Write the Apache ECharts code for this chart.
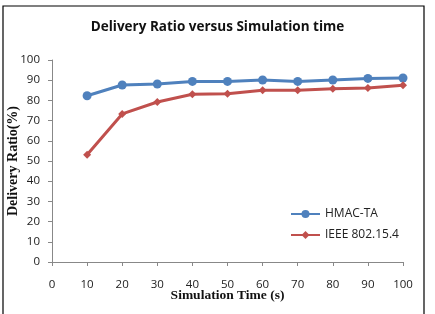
<!DOCTYPE html>
<html><head><meta charset="utf-8">
<script src="https://cdn.jsdelivr.net/npm/echarts@6/dist/echarts.min.js"></script>
<style>html,body{margin:0;padding:0;background:#fff}#c{width:435px;height:314px}</style>
</head><body><div id="c"></div>
<script>
const times = [10, 20, 30, 40, 50, 60, 70, 80, 90, 100];
const hmacTA = [82.3, 87.6, 88.1, 89.4, 89.4, 90.1, 89.4, 90.1, 90.9, 91.1];
const ieee802154 = [53.1, 73.3, 79.2, 83.0, 83.3, 85.0, 85.0, 85.8, 86.1, 87.5];
const seriesNames = ['HMAC-TA', 'IEEE 802.15.4'];
const titleText = 'Delivery Ratio versus Simulation time';
const xName = 'Simulation Time (s)';
const yName = 'Delivery Ratio(%)';

const chart = echarts.init(document.getElementById('c'));
const tickFont = {fontFamily: 'Open Sans', fontSize: 11.5, color: '#222'};
chart.setOption({
  animation: false,
  title: {text: titleText, left: 'center', top: 15,
    textStyle: {fontFamily: 'Open Sans', fontWeight: 'bold', fontSize: 13.5, color: '#111'}},
  graphic: [{type: 'rect', shape: {x: 3, y: 6, width: 421, height: 330},
    style: {fill: 'none', stroke: '#000', lineWidth: 1.2}, silent: true}],
  grid: {left: 52, right: 32, top: 60, bottom: 52, containLabel: false, outerBoundsMode: 'none'},
  legend: {orient: 'vertical', left: 285, top: 203, itemWidth: 29, itemHeight: 10, itemGap: 9,
    textStyle: {fontFamily: 'Open Sans', fontSize: 12, color: '#222'},
    data: seriesNames},
  xAxis: {type: 'value', min: 0, max: 100, interval: 10,
    name: xName, nameLocation: 'middle', nameGap: 27, nameMoveOverlap: false,
    nameTextStyle: {fontFamily: 'Liberation Serif', fontWeight: 'bold', fontSize: 13.5, color: '#111'},
    axisLine: {show: true, lineStyle: {color: '#888'}},
    axisTick: {show: true, length: 4, lineStyle: {color: '#888'}},
    splitLine: {show: false},
    axisLabel: Object.assign({margin: 17}, tickFont)},
  yAxis: {type: 'value', min: 0, max: 100, interval: 10,
    name: yName, nameLocation: 'middle', nameGap: 32, nameMoveOverlap: false,
    nameTextStyle: {fontFamily: 'Liberation Serif', fontWeight: 'bold', fontSize: 14, color: '#111'},
    axisLine: {show: true, lineStyle: {color: '#888'}},
    axisTick: {show: true, length: 4, lineStyle: {color: '#888'}},
    splitLine: {show: false},
    axisLabel: Object.assign({margin: 12}, tickFont)},
  series: [
    {name: seriesNames[0], type: 'line', data: times.map((t, i) => [t, hmacTA[i]]),
     symbol: 'circle', symbolSize: 9, lineStyle: {width: 3, color: '#4F81BD'},
     itemStyle: {color: '#4F81BD'}},
    {name: seriesNames[1], type: 'line', data: times.map((t, i) => [t, ieee802154[i]]),
     symbol: 'diamond', symbolSize: 8, lineStyle: {width: 3, color: '#C0504D'},
     itemStyle: {color: '#C0504D'}}
  ]
});
</script></body></html>
